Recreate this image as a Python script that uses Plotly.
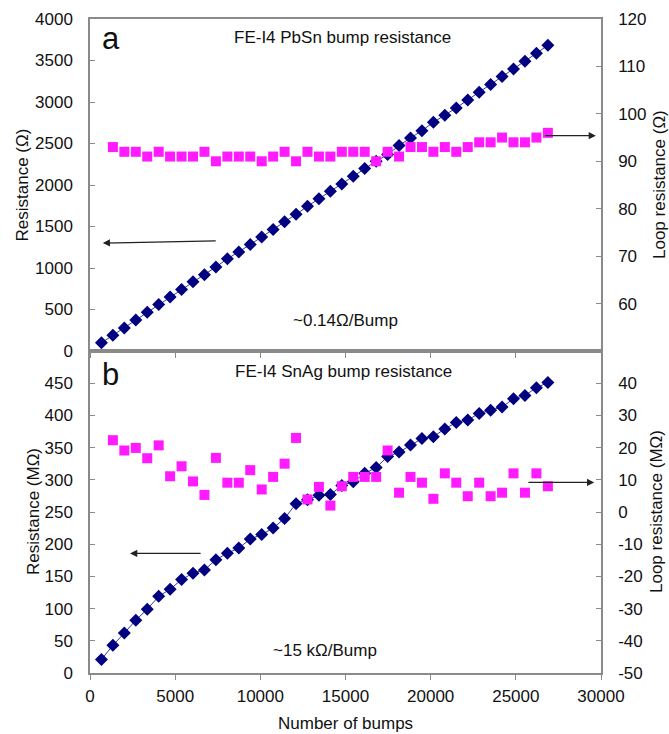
import plotly.graph_objects as go

# ---------------- data ----------------
BUMPS = [672, 1344, 2016, 2688, 3360, 4032, 4704, 5376, 6048, 6720,
         7392, 8064, 8736, 9408, 10080, 10752, 11424, 12096, 12768, 13440,
         14112, 14784, 15456, 16128, 16800, 17472, 18144, 18816, 19488, 20160,
         20832, 21504, 22176, 22848, 23520, 24192, 24864, 25536, 26208, 26880]

# panel a: PbSn
pbsn_res = [98, 189, 278, 375, 466, 559, 652, 740, 833, 920,
            1013, 1110, 1194, 1282, 1375, 1463, 1556, 1647, 1743, 1833,
            1924, 2013, 2105, 2198, 2286, 2366, 2475, 2567, 2655, 2755,
            2840, 2929, 3025, 3117, 3210, 3306, 3399, 3490, 3587, 3683]
pbsn_loop = [93, 92, 92, 91, 92, 91, 91, 91, 92, 90,
             91, 91, 91, 90, 91, 92, 90, 92, 91, 91,
             92, 92, 92, 90, 92, 91, 93, 93, 92, 93,
             92, 93, 94, 94, 95, 94, 94, 95, 96]

# panel b: SnAg
snag_res = [21, 43, 62, 82, 99, 119, 130, 145, 155, 160,
            176, 186, 194, 208, 215, 225, 240, 263, 269, 276,
            277, 291, 297, 310, 319, 336, 343, 354, 364, 367,
            379, 389, 393, 403, 408, 413, 426, 431, 443, 451]
snag_loop = [22.3, 19.1, 19.9, 16.7, 20.7, 11.1, 14.2, 9.5, 5.3, 16.8,
             9.1, 9.1, 13.0, 7.0, 10.9, 15.0, 23.0, 3.9, 7.8, 2.0,
             8.0, 10.9, 10.9, 10.9, 19.1, 6.0, 10.9, 9.1, 4.1, 12.0,
             9.1, 4.9, 9.1, 4.9, 6.0, 12.0, 6.0, 12.0, 8.0]

X_TICKS = [0, 5000, 10000, 15000, 20000, 25000, 30000]
A_LEFT_TICKS = [0, 500, 1000, 1500, 2000, 2500, 3000, 3500, 4000]
A_RIGHT_TICKS = [60, 70, 80, 90, 100, 110, 120]
B_LEFT_TICKS = [0, 50, 100, 150, 200, 250, 300, 350, 400, 450]
B_RIGHT_TICKS = [-50, -40, -30, -20, -10, 0, 10, 20, 30, 40]


def labels(vals):
    return [str(v) for v in vals]


# ---------------- style ----------------
FONT = "Liberation Sans, Arial, sans-serif"
NAVY = "#000080"
LINEBLUE = "#3838b0"
MAGENTA = "#ff1aff"
FRAME = "#8a8a8a"
FS = 17

W, H = 669, 734
ML, MR, MT, MB = 90, 68, 19, 61
PW, PH = W - ML - MR, H - MT - MB


def px_x(px):
    return (px - ML) / PW


def px_y(py):
    return (H - MB - py) / PH


fig = go.Figure()

fig.add_trace(go.Scatter(x=BUMPS, y=pbsn_res, mode="lines+markers",
                         line=dict(color=LINEBLUE, width=1),
                         marker=dict(symbol="diamond", size=10, color=NAVY),
                         xaxis="x", yaxis="y", showlegend=False))
fig.add_trace(go.Scatter(x=BUMPS[1:], y=pbsn_loop, mode="markers",
                         marker=dict(symbol="square", size=10, color=MAGENTA),
                         xaxis="x", yaxis="y2", showlegend=False))
fig.add_trace(go.Scatter(x=BUMPS, y=snag_res, mode="lines+markers",
                         line=dict(color=LINEBLUE, width=1),
                         marker=dict(symbol="diamond", size=10, color=NAVY),
                         xaxis="x2", yaxis="y3", showlegend=False))
fig.add_trace(go.Scatter(x=BUMPS[1:], y=snag_loop, mode="markers",
                         marker=dict(symbol="square", size=10, color=MAGENTA),
                         xaxis="x2", yaxis="y4", showlegend=False))

split = 322 / PH

axis_common = dict(showline=True, linecolor=FRAME, linewidth=1.5,
                   showgrid=False, zeroline=False, automargin=False,
                   tickfont=dict(family=FONT, size=FS, color="#111"),
                   tickcolor=FRAME, ticklen=5, tickwidth=1)

fig.update_layout(
    width=W, height=H,
    margin=dict(l=ML, r=MR, t=MT, b=MB),
    paper_bgcolor="white", plot_bgcolor="white",
    font=dict(family=FONT, size=FS, color="#111"),
    xaxis=dict(domain=[0, 1], anchor="y", range=[0, 30000],
               tickvals=X_TICKS, showticklabels=False, ticks="outside",
               mirror=True, **axis_common),
    xaxis2=dict(domain=[0, 1], anchor="y3", range=[0, 30000],
                tickvals=X_TICKS, ticktext=labels(X_TICKS),
                ticks="outside", mirror=True,
                ticklabelstandoff=2,
                **axis_common),
    yaxis=dict(domain=[split, 1], anchor="x", range=[0, 4000],
               tickvals=A_LEFT_TICKS, ticktext=labels(A_LEFT_TICKS),
               ticks="inside", mirror=True, ticklabelstandoff=12,
               **axis_common),
    yaxis2=dict(overlaying="y", side="right", anchor="x", range=[50, 120],
                tickvals=A_RIGHT_TICKS, ticktext=labels(A_RIGHT_TICKS),
                ticks="inside", ticklabelstandoff=12,
                **axis_common),
    yaxis3=dict(domain=[0, split], anchor="x2", range=[0, 500],
                tickvals=B_LEFT_TICKS, ticktext=labels(B_LEFT_TICKS),
                ticks="inside", mirror=True, ticklabelstandoff=12,
                **axis_common),
    yaxis4=dict(overlaying="y3", side="right", anchor="x2", range=[-50, 50],
                tickvals=B_RIGHT_TICKS, ticktext=labels(B_RIGHT_TICKS),
                ticks="inside", ticklabelstandoff=12,
                **axis_common),
)

# axis titles as annotations for precise placement
title_font = dict(family=FONT, size=FS, color="#111")
axis_titles = [
    # text, x px, y px, angle
    ("Resistance (Ω)", 21.5, 185, -90),
    ("Loop resistance (Ω)", 659, 185, -90),
    ("Resistance (MΩ)", 33, 512, -90),
    ("Loop resistance (MΩ)", 656, 512, -90),
    ("Number of bumps", 345.5, 723.5, 0),
]
for text, px, py, ang in axis_titles:
    fig.add_annotation(x=px_x(px), y=px_y(py), xref="paper", yref="paper",
                       text=text, textangle=ang, showarrow=False,
                       xanchor="center", yanchor="middle", font=title_font)

txt = dict(showarrow=False, font=dict(family=FONT, size=FS, color="#111"))
fig.add_annotation(x=570, y=3760, xref="x", yref="y", text="a",
                   xanchor="left", yanchor="middle",
                   showarrow=False, font=dict(family=FONT, size=31, color="#111"))
fig.add_annotation(x=14840, y=3773, xref="x", yref="y",
                   text="FE-I4 PbSn bump resistance", **txt)
fig.add_annotation(x=15000, y=365, xref="x", yref="y",
                   text="~0.14Ω/Bump", **txt)
fig.add_annotation(x=600, y=463, xref="x2", yref="y3", text="b",
                   xanchor="left", yanchor="middle",
                   showarrow=False, font=dict(family=FONT, size=31, color="#111"))
fig.add_annotation(x=14900, y=468, xref="x2", yref="y3",
                   text="FE-I4 SnAg bump resistance", **txt)
fig.add_annotation(x=13780, y=35, xref="x2", yref="y3",
                   text="~15 kΩ/Bump", **txt)

arrow = dict(showarrow=True, arrowhead=2, arrowsize=1.2, arrowwidth=1.2,
             arrowcolor="#222", text="")
fig.add_annotation(x=750, y=1300, ax=7470, ay=1328, xref="x", yref="y",
                   axref="x", ayref="y", **arrow)
fig.add_annotation(x=29700, y=95.4, ax=26650, ay=95.4, xref="x", yref="y2",
                   axref="x", ayref="y2", **arrow)
fig.add_annotation(x=2350, y=185.6, ax=6580, ay=185.6, xref="x2", yref="y3",
                   axref="x2", ayref="y3", **arrow)
fig.add_annotation(x=29600, y=9.2, ax=25650, ay=9.2, xref="x2", yref="y4",
                   axref="x2", ayref="y4", **arrow)

# remove the browser's default 8px body margin so the figure fills the window
fig.write_html("out.html",
               config={"displayModeBar": False},
               post_script="document.body.style.margin='0';"
                           "document.body.style.overflow='hidden';")
